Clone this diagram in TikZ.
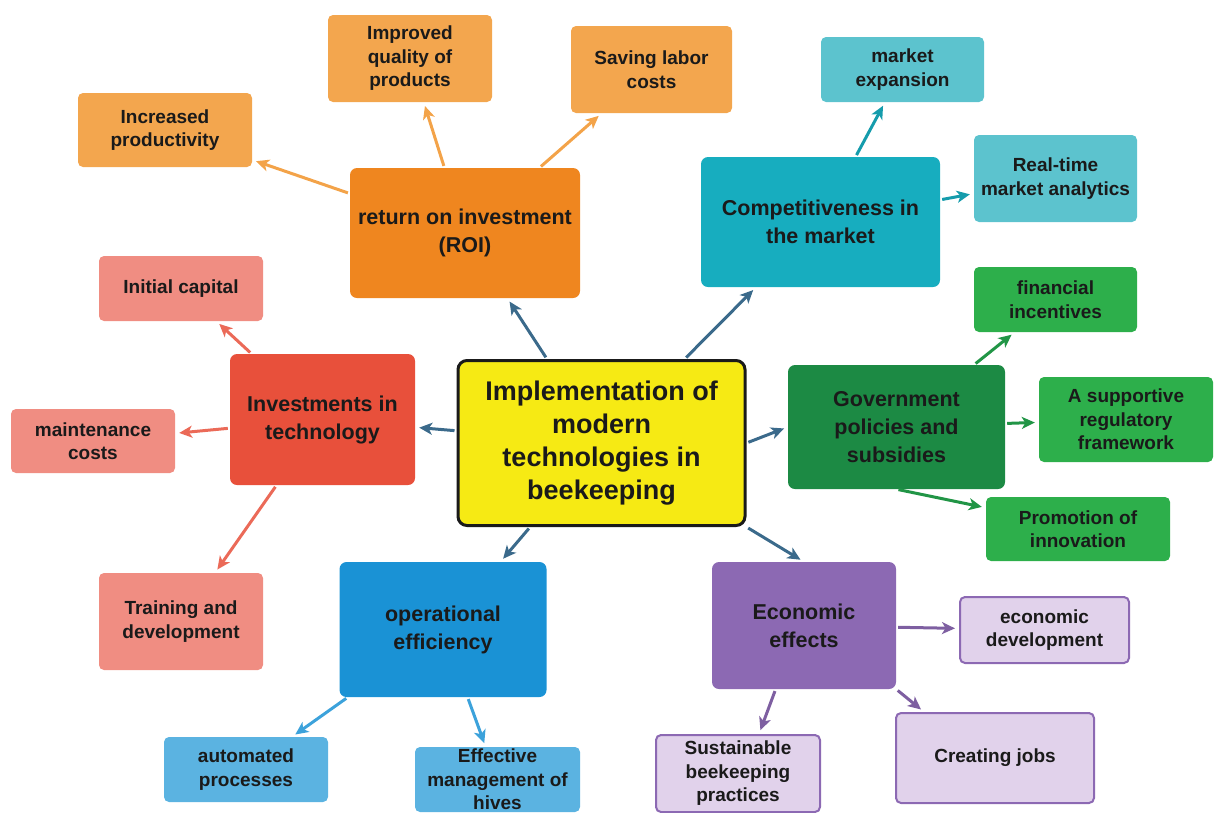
\documentclass[tikz,border=0pt]{standalone}
\usepackage{fontspec}
\setmainfont{Liberation Sans}
\usepackage{xcolor}
\usepackage{tikz}
\usetikzlibrary{arrows.meta}

\definecolor{hubY}{HTML}{F6EA14}
\definecolor{roiC}{HTML}{EF861F}
\definecolor{roiL}{HTML}{F3A64E}
\definecolor{compC}{HTML}{17ADBF}
\definecolor{compL}{HTML}{5CC3CE}
\definecolor{govC}{HTML}{1C8A44}
\definecolor{govL}{HTML}{2DAF4B}
\definecolor{econC}{HTML}{8C69B3}
\definecolor{econL}{HTML}{E1D2EB}
\definecolor{opC}{HTML}{1A92D5}
\definecolor{opL}{HTML}{5BB3E1}
\definecolor{invC}{HTML}{E8503B}
\definecolor{invL}{HTML}{F08D82}
\definecolor{hubA}{HTML}{3B6A8B}
\definecolor{ink}{HTML}{1A1A1A}

\begin{document}
\begin{tikzpicture}[x=1pt, y=-1pt, font=\bfseries, text=ink,
		hub/.style={draw=ink, line width=3pt, fill=hubY, rounded corners=9pt, align=center, inner sep=0pt, font=\bfseries\fontsize{27}{33}\selectfont},
		topic/.style={rounded corners=7pt, align=center, inner sep=0pt, font=\bfseries\fontsize{21.5}{28}\selectfont},
		leaf/.style={rounded corners=5pt, align=center, inner sep=0pt, font=\bfseries\fontsize{19}{23.5}\selectfont},
		link/.style={-{Stealth[length=13pt, width=12pt, inset=3.5pt]}, line width=3pt, shorten <=2pt, shorten >=4pt}]
		\useasboundingbox (0,0) rectangle (1214,812);

		% centre
		\node[hub, minimum width=287pt, minimum height=165pt] (main) at (601.5,443) {Implementation of\\modern\\technologies in\\beekeeping};

		% return on investment
		\node[topic, fill=roiC, minimum width=230pt, minimum height=130pt] (roi) at (465,233) {return on investment\\(ROI)};
		\node[leaf, fill=roiL, minimum width=174pt, minimum height=74pt] (incr) at (165,130) {Increased\\productivity};
		\node[leaf, fill=roiL, minimum width=164pt, minimum height=87pt] (impr) at (410,58.5) {Improved\\quality of\\products};
		\node[leaf, fill=roiL, minimum width=161pt, minimum height=87pt] (save) at (651.5,69.5) {Saving labor\\costs};

		% competitiveness
		\node[topic, fill=compC, minimum width=239pt, minimum height=130pt] (comp) at (820.5,222) {Competitiveness in\\the market};
		\node[leaf, fill=compL, minimum width=163pt, minimum height=65pt] (mexp) at (902.5,69.5) {market\\expansion};
		\node[leaf, fill=compL, minimum width=163pt, minimum height=87pt] (rta) at (1055.5,178.5) {Real-time\\market analytics};

		% government
		\node[topic, fill=govC, minimum width=217pt, minimum height=124pt] (gov) at (896.5,427) {Government\\policies and\\subsidies};
		\node[leaf, fill=govL, minimum width=163pt, minimum height=65pt] (fin) at (1055.5,299.5) {financial\\incentives};
		\node[leaf, fill=govL, minimum width=174pt, minimum height=85pt] (sup) at (1126,419.5) {A supportive\\regulatory\\framework};
		\node[leaf, fill=govL, minimum width=184pt, minimum height=64pt] (promo) at (1078,529) {Promotion of\\innovation};

		% economic effects
		\node[topic, fill=econC, minimum width=184pt, minimum height=127pt] (econ) at (804,625.5) {Economic\\effects};
		\node[leaf, fill=econL, draw=econC, line width=2pt, minimum width=169pt, minimum height=66pt] (dev) at (1044.5,630) {economic\\development};
		\node[leaf, fill=econL, draw=econC, line width=2pt, minimum width=198pt, minimum height=90pt] (jobs) at (995,758) {Creating jobs};
		\node[leaf, fill=econL, draw=econC, line width=2pt, minimum width=164pt, minimum height=77pt] (sust) at (738,773.5) {Sustainable\\beekeeping\\practices};

		% operational efficiency
		\node[topic, fill=opC, minimum width=207pt, minimum height=135pt] (op) at (443,629.5) {operational\\efficiency};
		\node[leaf, fill=opL, minimum width=164pt, minimum height=65pt] (auto) at (246,769.5) {automated\\processes};
		\node[leaf, fill=opL, minimum width=165pt, minimum height=65pt] (eff) at (497.5,779.5) {Effective\\management of\\hives};

		% investments
		\node[topic, fill=invC, minimum width=185pt, minimum height=131pt] (inv) at (322.5,419.5) {Investments in\\technology};
		\node[leaf, fill=invL, minimum width=164pt, minimum height=65pt] (initc) at (181,288.5) {Initial capital};
		\node[leaf, fill=invL, minimum width=164pt, minimum height=64pt] (maint) at (93,441) {maintenance\\costs};
		\node[leaf, fill=invL, minimum width=164pt, minimum height=97pt] (train) at (181,621.5) {Training and\\development};

		% arrows
		\draw[link, hubA] (main) -- (roi);
		\draw[link, hubA] (main) -- (comp);
		\draw[link, hubA] (main) -- (inv);
		\draw[link, hubA] (main.east) -- (gov.west);
		\draw[link, hubA] (main) -- (op);
		\draw[link, hubA] (main.south east) -- (econ.north);

		\draw[link, roiL!90!roiC] (roi) -- (incr);
		\draw[link, roiL!90!roiC] (roi) -- (impr);
		\draw[link, roiL!90!roiC] (roi) -- (save);

		\draw[link, compC!90!black] (comp) -- (mexp);
		\draw[link, compC!90!black] (comp) -- (rta);

		\draw[link, govC!70!govL] (gov) -- (fin);
		\draw[link, govC!70!govL] (gov) -- (sup);
		\draw[link, govC!70!govL] (gov.south) -- (promo.167);

		\draw[link, econC!90!black] (econ) -- (dev);
		\draw[link, econC!90!black] (econ.south east) -- (jobs.147);
		\draw[link, econC!90!black] (econ.246) -- (sust.62);

		\draw[link, opC!85!white] (op) -- (auto);
		\draw[link, opC!85!white] (op) -- (eff);

		\draw[link, invC!85!white] (inv) -- (initc);
		\draw[link, invC!85!white] (inv) -- (maint);
		\draw[link, invC!85!white] (inv) -- (train);
	\end{tikzpicture}
\end{document}
